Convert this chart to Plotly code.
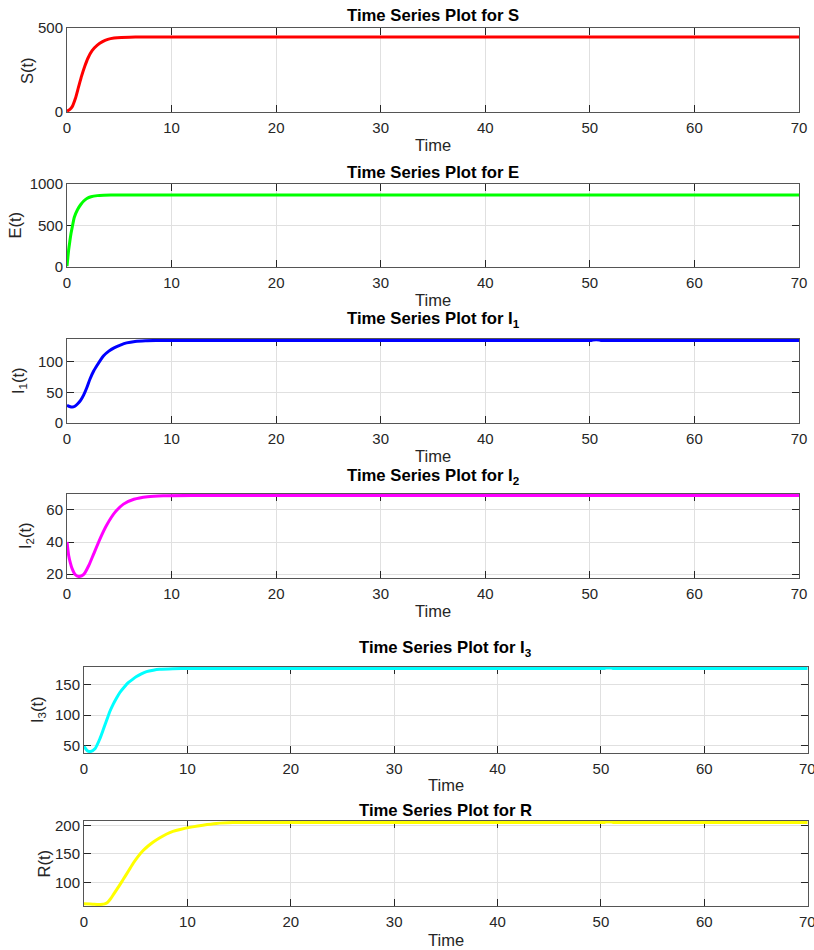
import plotly.graph_objects as go

W, H = 814, 950

# ---------------- data ----------------
t_S = [0, 0.25, 0.5, 0.8, 1.1, 1.4, 1.7, 2.0, 2.4, 2.9, 3.4, 3.9, 4.5, 5.2, 6.0, 7.0, 10, 20, 30, 40, 50, 60, 70]
S = [5, 14, 32, 80, 148, 215, 272, 320, 365, 398, 419, 432, 440, 444, 445.5, 446, 446, 446, 446, 446, 446, 446, 446]

t_E = [0, 0.08, 0.16, 0.25, 0.38, 0.5, 0.7, 1.0, 1.3, 1.6, 1.9, 2.3, 2.9, 3.5, 4.2, 6, 10, 20, 30, 40, 50, 60, 70]
E = [10, 110, 208, 290, 400, 480, 600, 690, 750, 795, 825, 846, 860, 865, 868, 868, 868, 868, 868, 868, 868, 868, 868]

t_I1 = [0, 0.25, 0.5, 0.75, 1.0, 1.3, 1.6, 1.9, 2.2, 2.55, 2.9, 3.2, 3.5, 4.0, 4.5, 5.1, 5.7, 6.5, 7.5, 8.5,
        20, 30, 40, 49.9, 50.1, 50.3, 50.9, 51.1, 51.3, 60, 70]
I1 = [29, 27, 26, 27.5, 31, 37, 46, 58, 72, 85, 95, 103, 110, 117.5, 123, 127.5, 131, 133.5, 134.7, 135,
      135, 135, 135, 135, 135, 135.8, 135.8, 135, 135, 135, 135]

t_I2 = [0, 0.16, 0.32, 0.48, 0.8, 1.15, 1.6, 2.1, 2.55, 3.2, 3.8, 4.6, 5.4, 6.4, 7.7, 9.2, 12, 20, 30, 40, 50, 60, 70]
I2 = [40, 31.6, 27, 23.6, 19.6, 18.5, 19.8, 25.6, 32.6, 42.6, 50.6, 58.6, 63.6, 66.6, 68.2, 68.8, 69, 69, 69, 69, 69, 69, 69]

t_I3 = [0, 0.32, 0.64, 1.06, 1.54, 1.9, 2.2, 2.5, 2.83, 3.15, 3.47, 3.9, 4.28, 4.7, 5.08, 5.5, 6.05, 6.7, 7.3, 8.6, 10,
        20, 30, 40, 50.1, 50.3, 50.5, 51.0, 51.2, 51.4, 60, 70]
I3 = [49, 42, 40.5, 45, 61.6, 78, 92, 106, 118, 128, 137, 146, 153, 158.5, 163, 167, 171, 173.5, 175, 176, 176.3,
      176.3, 176.3, 176.3, 176.3, 176.3, 177.0, 177.0, 176.3, 176.3, 176.3, 176.3]

t_R = [0, 0.6, 1.0, 1.4, 1.8, 2.0, 2.2, 2.4, 2.6, 2.8, 3.0, 3.4, 3.8, 4.3, 4.76, 5.2, 5.72, 6.2, 6.7, 7.3, 8.0, 8.6, 9.3,
       10.5, 11.5, 12.8, 14.4, 16, 20, 30, 40, 50.1, 50.3, 50.5, 51.0, 51.2, 51.4, 60, 70]
R = [62.4, 62.2, 61.6, 61.2, 61.6, 62.5, 64, 67.5, 72, 77.5, 83, 94, 105.6, 120, 133.7, 145, 156, 164, 171, 178, 185,
     189.5, 193, 197.5, 200.5, 203.5, 205, 205.3, 205.3, 205.3, 205.3, 205.3, 205.3, 205.9, 205.9, 205.3, 205.3, 205.3, 205.3]

titles = ["Time Series Plot for S", "Time Series Plot for E", "Time Series Plot for I<sub>1</sub>",
          "Time Series Plot for I<sub>2</sub>", "Time Series Plot for I<sub>3</sub>", "Time Series Plot for R"]
ylabels = ["S(t)", "E(t)", "I<sub>1</sub>(t)", "I<sub>2</sub>(t)", "I<sub>3</sub>(t)", "R(t)"]
colors = ["#ff0000", "#00ff00", "#0000ff", "#ff00ff", "#00ffff", "#ffff00"]
xticks = [0, 10, 20, 30, 40, 50, 60, 70]
yticks = [[0, 500], [0, 500, 1000], [0, 50, 100], [20, 40, 60], [50, 100, 150], [100, 150, 200]]

series = [(t_S, S), (t_E, E), (t_I1, I1), (t_I2, I2), (t_I3, I3), (t_R, R)]
# axis limits ("tight" where the reference is tight); plateau values exclude the tiny blip near t=50
ylims = [(0, 500), (0, 1000), (0, I1[19]), (min(I2), max(I2)), (min(I3), I3[20]), (min(R), R[27])]
tight = [(False, False), (False, False), (False, True), (True, True), (True, True), (True, True)]

# ---------------- layout geometry (pixels) ----------------
xpix = [(67, 799)] * 4 + [(84, 807.7)] * 2
ypix = [(28, 112), (184, 267), (339, 423), (494, 578), (667, 753), (821, 906)]
title_y = [16, 172, 320, 476, 648, 810]
xlabel_y = [145, 300, 456, 611, 785, 940]
ylabel_x = [27, 15, 19, 26, 38, 43]

FONT = "Liberation Sans, Arial, sans-serif"
TXT = "#262626"
LW = 3.0
TICK_FS = 15
LABEL_FS = 16.5
TITLE_FS = 16.7

fig = go.Figure()
annotations = []
layout = dict(width=W, height=H, margin=dict(l=0, r=0, t=0, b=0, autoexpand=False),
              paper_bgcolor="white", plot_bgcolor="white", showlegend=False,
              font=dict(family=FONT, size=TICK_FS, color=TXT))

for i, ((tx, vy), col) in enumerate(zip(series, colors)):
    n = "" if i == 0 else str(i + 1)
    fig.add_trace(go.Scatter(x=tx, y=vy, mode="lines", xaxis="x" + n, yaxis="y" + n,
                             line=dict(color=col, width=LW, shape="spline", smoothing=0.6),
                             hoverinfo="skip"))
    x0, x1 = xpix[i]
    yt, yb = ypix[i]
    lo, hi = ylims[i]
    # keep the full line width visible where the curve touches the box (lines are clipped in plotly)
    pad = (hi - lo) * (LW / 2) / (yb - yt)
    if tight[i][0]:
        lo -= pad
    if tight[i][1]:
        hi += pad
    common = dict(showline=True, linecolor="#555555", linewidth=1, mirror="ticks",
                  ticks="inside", ticklen=7, tickcolor="#262626", tickwidth=1,
                  showgrid=True, gridcolor="#e0e0e0", gridwidth=1, zeroline=False,
                  automargin=False, layer="below traces",
                  tickfont=dict(family=FONT, size=TICK_FS, color=TXT))
    layout["xaxis" + n] = dict(domain=[x0 / W, x1 / W], range=[0, 70], tickvals=xticks,
                               anchor="y" + n, ticklabelstandoff=2, **common)
    layout["yaxis" + n] = dict(domain=[1 - yb / H, 1 - yt / H], range=[lo, hi], tickvals=yticks[i],
                               anchor="x" + n, **common)
    cx = (x0 + x1) / 2 / W
    annotations.append(dict(text="<b>" + titles[i] + "</b>", x=cx, y=1 - title_y[i] / H,
                            xref="paper", yref="paper", xanchor="center", yanchor="middle",
                            showarrow=False, font=dict(family=FONT, size=TITLE_FS, color="#000000")))
    annotations.append(dict(text="Time", x=cx, y=1 - xlabel_y[i] / H,
                            xref="paper", yref="paper", xanchor="center", yanchor="middle",
                            showarrow=False, font=dict(family=FONT, size=LABEL_FS, color=TXT)))
    annotations.append(dict(text=ylabels[i], x=ylabel_x[i] / W, y=1 - (yt + yb) / 2 / H,
                            xref="paper", yref="paper", xanchor="center", yanchor="middle",
                            textangle=-90, showarrow=False, font=dict(family=FONT, size=LABEL_FS, color=TXT)))
    if x1 > W - 10:
        # last tick label runs off the page edge (plotly drops it); draw it so it is cut like the reference
        annotations.append(dict(text=str(xticks[-1]), x=xticks[-1], xref="x" + n,
                                y=1 - (yb + 15) / H, yref="paper", xanchor="center", yanchor="middle",
                                showarrow=False, font=dict(family=FONT, size=TICK_FS, color=TXT)))

layout["annotations"] = annotations
fig.update_layout(**layout)
fig.write_html("out.html", config={"displayModeBar": False},
               post_script="document.body.style.margin='0';document.body.style.overflow='hidden';")
